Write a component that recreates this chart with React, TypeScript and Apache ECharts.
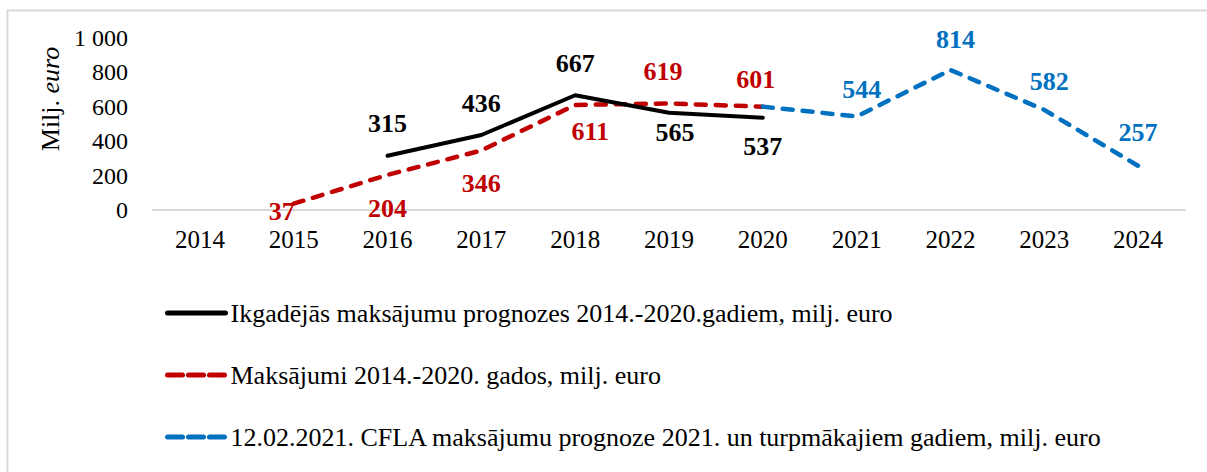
import React, { useEffect, useRef } from 'react';
import * as echarts from 'echarts';

const years = ['2014', '2015', '2016', '2017', '2018', '2019', '2020', '2021', '2022', '2023', '2024'];

const forecastName = 'Ikgadējās maksājumu prognozes 2014.-2020.gadiem, milj. euro';
const forecastValues: (number | null)[] = [null, null, 315, 436, 667, 565, 537, null, null, null, null];

const paymentsName = 'Maksājumi 2014.-2020. gados, milj. euro';
const paymentsValues: (number | null)[] = [null, 37, 204, 346, 611, 619, 601, null, null, null, null];

const cflaName = '12.02.2021. CFLA maksājumu prognoze 2021. un turpmākajiem gadiem, milj. euro';
const cflaValues: (number | null)[] = [null, null, null, null, null, null, 601, 544, 814, 582, 257];

const yTicks = [0, 200, 400, 600, 800, 1000];
const yTickLabels = ['0', '200', '400', '600', '800', '1 000'];

// label placement styles per point: [position, distance, dx, dy] ; null = no label
type LP = [string, number, number, number] | null;
const forecastLabelPos: LP[] = [null, null, ['top', 17, 0, 0], ['top', 17, 0, 0], ['top', 17, 0, 0], ['bottom', 5, 6, 0], ['bottom', 14, 0, 0], null, null, null, null];
const paymentsLabelPos: LP[] = [null, ['bottom', 0, -12, -7], ['bottom', 19, 0, 0], ['bottom', 18, 0, 0], ['bottom', 12, 15, 0], ['top', 17, -6, 0], ['top', 12, -7, 0], null, null, null, null];
const cflaLabelPos: LP[] = [null, null, null, null, null, null, null, ['top', 12, 5, 0], ['top', 15, 5, 0], ['top', 13, 5, 0], ['top', 18, 0, 0]];

const FONT = 'Liberation Serif, Times New Roman, serif';

function buildData(values: (number | null)[], pos: LP[]) {
  return values.map((v, i) => {
    if (v === null) return '-';
    const p = pos[i];
    if (!p) return { value: v, label: { show: false } };
    return { value: v, label: { show: true, position: p[0], distance: p[1], offset: [p[2], p[3]] } };
  });
}

function makeSeries(name: string, values: (number | null)[], pos: LP[], color: string, width: number, type: any, z: number) {
  return {
    name,
    type: 'line',
    data: buildData(values, pos),
    symbol: 'circle',
    symbolSize: 4,
    showSymbol: true,
    connectNulls: false,
    z,
    itemStyle: { color: 'rgba(0,0,0,0)', borderWidth: 0 },
    lineStyle: { color, width, type, cap: 'round' },
    label: {
      show: true,
      color,
      fontSize: 26,
      fontWeight: 'bold',
      fontFamily: FONT,
    },
    emphasis: { disabled: true },
  };
}

export default function App() {
  const ref = useRef<HTMLDivElement>(null);
  useEffect(() => {
    if (!ref.current) return;
    const chart = echarts.init(ref.current, null, { renderer: 'svg' });
    chart.setOption({
      animation: false,
      backgroundColor: '#fff',
      grid: { left: 153, right: 22, top: 38, bottom: 262 },
      xAxis: {
        type: 'category',
        data: years,
        boundaryGap: true,
        axisLine: { show: true, lineStyle: { color: '#d9d9d9', width: 2 } },
        axisTick: { show: false },
        axisLabel: { fontSize: 25, fontFamily: FONT, color: '#000', margin: 17 },
        splitLine: { show: false },
      },
      yAxis: {
        type: 'value',
        min: 0,
        max: 1000,
        interval: 200,
        axisLine: { show: false },
        axisTick: { show: false },
        splitLine: { show: false },
        axisLabel: {
          fontSize: 24,
          fontFamily: FONT,
          color: '#000',
          margin: 25,
          formatter: (v: number) => {
            const idx = yTicks.indexOf(v);
            return idx >= 0 ? yTickLabels[idx] : String(v);
          },
        },
      },
      legend: {
        show: true,
        orient: 'vertical',
        left: 165,
        top: 300,
        padding: 0,
        itemGap: 36,
        itemWidth: 58,
        itemHeight: 14,
        selectedMode: false,
        itemStyle: { opacity: 0 },
        textStyle: { fontSize: 26, fontFamily: FONT, color: '#000' },
        data: [
          { name: forecastName, lineStyle: { color: '#000000', width: 5, type: 'solid', cap: 'round' } },
          { name: paymentsName, lineStyle: { color: '#C00000', width: 5, type: [15, 6], cap: 'round' } },
          { name: cflaName, lineStyle: { color: '#0070C0', width: 5, type: [15, 6], cap: 'round' } },
        ],
      },
      graphic: [
        {
          type: 'rect',
          silent: true,
          shape: { x: 7.5, y: 10.5, width: 1210, height: 480 },
          style: { fill: 'none', stroke: '#d9d9d9', lineWidth: 2 },
          z: -10,
        },
        {
          type: 'text',
          x: 50,
          y: 99,
          rotation: Math.PI / 2,
          silent: true,
          style: {
            text: '{n|Milj. }{i|euro}',
            align: 'center',
            verticalAlign: 'middle',
            rich: {
              n: { fontSize: 26, fontFamily: FONT, fill: '#000' },
              i: { fontSize: 26, fontFamily: FONT, fontStyle: 'italic', fill: '#000' },
            },
          },
        },
      ],
      series: [
        makeSeries(paymentsName, paymentsValues, paymentsLabelPos, '#C00000', 4.5, [10, 10], 2),
        makeSeries(forecastName, forecastValues, forecastLabelPos, '#000000', 4, 'solid', 3),
        makeSeries(cflaName, cflaValues, cflaLabelPos, '#0070C0', 4.5, [10, 10], 2),
      ],
    });
    return () => chart.dispose();
  }, []);
  return <div ref={ref} style={{ position: 'absolute', left: 0, top: 0, width: 1207, height: 472 }} />;
}
